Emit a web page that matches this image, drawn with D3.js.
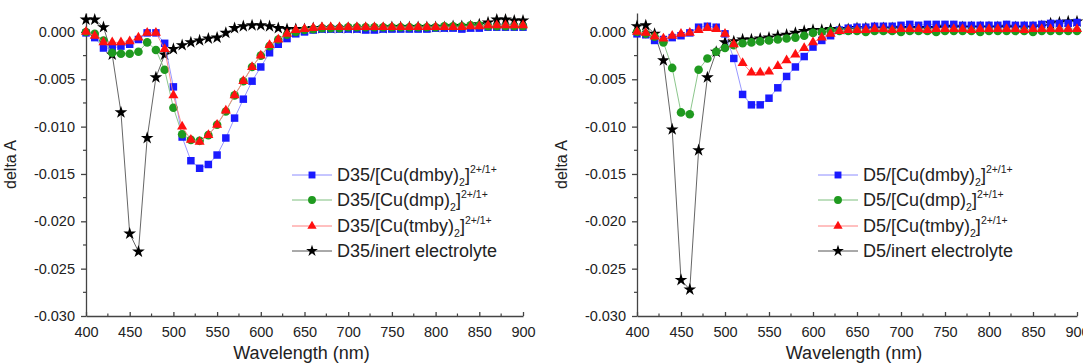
<!DOCTYPE html>
<head>
  <meta charset="utf-8">
  <script src="https://d3js.org/d3.v7.min.js"></script>
  <style>
    body { margin:0; background:#fff; }
    text { font-family: Arial, "Liberation Sans", sans-serif; fill:#222; }
  </style>
</head>

<body>
  <script>
    // wavelengths (nm), same grid for both panels
    var wavelengths = [400,410,420,430,440,450,460,470,480,490,500,510,520,530,540,550,560,570,580,590,
                       600,610,620,630,640,650,660,670,680,690,700,710,720,730,740,750,760,770,780,790,
                       800,810,820,830,840,850,860,870,880,890,900];

    // D35 panel (left)
    var d35_dmby = [-0.0001,-0.0006,-0.0017,-0.0017,-0.0015,-0.0013,-0.0008,-0.0001,-0.0001,-0.0012,
                    -0.0058,-0.0111,-0.0136,-0.0144,-0.0140,-0.0130,-0.0112,-0.0091,-0.0071,-0.0052,
                    -0.0037,-0.0022,-0.0013,-0.0007,-0.0002,0.0000,0.0002,0.0003,0.0003,0.0003,
                    0.0003,0.0003,0.0002,0.0002,0.0003,0.0003,0.0003,0.0003,0.0003,0.0003,
                    0.0004,0.0004,0.0004,0.0003,0.0004,0.0004,0.0005,0.0005,0.0005,0.0005,0.0005];
    var d35_dmp  = [0.0000,-0.0002,-0.0009,-0.0022,-0.0023,-0.0023,-0.0021,-0.0011,-0.0019,-0.0040,
                    -0.0080,-0.0108,-0.0114,-0.0115,-0.0109,-0.0098,-0.0084,-0.0067,-0.0052,-0.0037,
                    -0.0025,-0.0015,-0.0008,-0.0003,0.0000,0.0002,0.0003,0.0004,0.0004,0.0004,
                    0.0005,0.0005,0.0005,0.0005,0.0005,0.0005,0.0005,0.0005,0.0005,0.0005,
                    0.0005,0.0006,0.0006,0.0006,0.0007,0.0007,0.0006,0.0006,0.0006,0.0006,0.0006];
    var d35_tmby = [0.0000,-0.0004,-0.0011,-0.0011,-0.0011,-0.0010,-0.0006,-0.0001,-0.0001,-0.0018,
                    -0.0067,-0.0100,-0.0114,-0.0116,-0.0109,-0.0098,-0.0083,-0.0067,-0.0052,-0.0037,
                    -0.0025,-0.0014,-0.0008,-0.0002,0.0002,0.0003,0.0004,0.0005,0.0005,0.0005,
                    0.0005,0.0005,0.0005,0.0005,0.0005,0.0005,0.0005,0.0005,0.0005,0.0005,
                    0.0005,0.0005,0.0005,0.0005,0.0006,0.0006,0.0007,0.0007,0.0007,0.0007,0.0007];
    var d35_inert = [0.0013,0.0013,0.0005,-0.0024,-0.0085,-0.0213,-0.0232,-0.0112,-0.0048,-0.0024,
                     -0.0018,-0.0014,-0.0011,-0.0009,-0.0007,-0.0006,-0.0001,0.0004,0.0006,0.0007,
                     0.0007,0.0006,0.0004,0.0003,0.0003,0.0003,0.0004,0.0004,0.0004,0.0004,
                     0.0004,0.0004,0.0004,0.0004,0.0004,0.0005,0.0005,0.0005,0.0005,0.0005,
                     0.0005,0.0005,0.0006,0.0006,0.0006,0.0008,0.0010,0.0013,0.0013,0.0012,0.0012];

    // D5 panel (right)
    var d5_dmby = [-0.0002,-0.0003,-0.0009,-0.0008,-0.0006,-0.0004,-0.0001,0.0005,0.0006,0.0005,
                   -0.0002,-0.0028,-0.0066,-0.0077,-0.0077,-0.0070,-0.0059,-0.0047,-0.0037,-0.0026,
                   -0.0016,-0.0009,-0.0004,0.0002,0.0004,0.0005,0.0005,0.0006,0.0006,0.0006,
                   0.0007,0.0008,0.0007,0.0008,0.0008,0.0008,0.0008,0.0007,0.0007,0.0007,
                   0.0007,0.0007,0.0008,0.0007,0.0007,0.0007,0.0008,0.0009,0.0009,0.0009,0.0010];
    var d5_dmp  = [0.0000,-0.0002,-0.0005,-0.0011,-0.0038,-0.0085,-0.0087,-0.0040,-0.0028,-0.0021,
                   -0.0017,-0.0014,-0.0012,-0.0011,-0.0010,-0.0009,-0.0008,-0.0007,-0.0006,-0.0004,
                   -0.0001,0.0000,0.0001,0.0001,0.0001,0.0001,0.0000,0.0001,0.0001,0.0001,
                   0.0000,0.0001,0.0001,0.0001,0.0000,0.0001,0.0001,0.0001,0.0001,0.0000,
                   0.0001,0.0001,0.0001,0.0001,0.0001,0.0000,0.0001,0.0001,0.0001,0.0001,0.0001];
    var d5_tmby = [0.0000,-0.0001,-0.0005,-0.0007,-0.0004,-0.0002,-0.0001,0.0002,0.0004,0.0003,
                   -0.0002,-0.0013,-0.0033,-0.0043,-0.0043,-0.0042,-0.0036,-0.0030,-0.0024,-0.0017,
                   -0.0011,-0.0006,-0.0002,0.0001,0.0002,0.0002,0.0002,0.0003,0.0003,0.0002,
                   0.0003,0.0003,0.0003,0.0002,0.0003,0.0003,0.0003,0.0003,0.0002,0.0003,
                   0.0003,0.0003,0.0003,0.0003,0.0002,0.0003,0.0003,0.0003,0.0003,0.0003,0.0003];
    var d5_inert = [0.0006,0.0007,-0.0002,-0.0030,-0.0103,-0.0262,-0.0272,-0.0125,-0.0048,-0.0021,
                    -0.0011,-0.0010,-0.0008,-0.0008,-0.0007,-0.0006,-0.0004,-0.0003,-0.0001,0.0001,
                    0.0002,0.0002,0.0003,0.0003,0.0003,0.0004,0.0004,0.0004,0.0004,0.0004,
                    0.0004,0.0004,0.0004,0.0004,0.0004,0.0005,0.0005,0.0005,0.0005,0.0005,
                    0.0005,0.0005,0.0005,0.0005,0.0005,0.0005,0.0006,0.0009,0.0010,0.0011,0.0011];

    var xTicks = [400,450,500,550,600,650,700,750,800,850,900];
    var yTicks = [0,-0.005,-0.010,-0.015,-0.020,-0.025,-0.030];

    var W = 1083, H = 364;
    var svg = d3.select("body").append("svg")
        .attr("width", W)
        .attr("height", H);

    // style per series: colour, line colour, symbol
    var styles = {
      dmby:  {color:"#1a1aff", line:"#8c8cff", sym:d3.symbolSquare,   size:56},
      dmp:   {color:"#1f9a1f", line:"#7fbf7f", sym:d3.symbolCircle,   size:58},
      tmby:  {color:"#ff1010", line:"#ff8080", sym:d3.symbolTriangle, size:44},
      inert: {color:"#000000", line:"#555555", sym:d3.symbolStar,     size:50}
    };

    function drawPanel(p) {
      var x = d3.scaleLinear().domain([400, 900]).range([p.left, p.right]);
      var y = d3.scaleLinear().domain([-0.030, 0.002]).range([316, 13]);
      var g = svg.append("g");

      // minor ticks
      var minorX = [425,475,525,575,625,675,725,775,825,875];
      g.selectAll(".mx").data(minorX).enter().append("line")
        .attr("x1", function(d){ return x(d); }).attr("x2", function(d){ return x(d); })
        .attr("y1", y(-0.030)).attr("y2", y(-0.030) - 2.5)
        .attr("stroke", "#444").attr("stroke-width", 1.2);
      var minorY = [-0.0025,-0.0075,-0.0125,-0.0175,-0.0225,-0.0275];
      g.selectAll(".my").data(minorY).enter().append("line")
        .attr("x1", x(400)).attr("x2", x(400) - 3)
        .attr("y1", function(d){ return y(d); }).attr("y2", function(d){ return y(d); })
        .attr("stroke", "#444").attr("stroke-width", 1.2);

      var xAxis = d3.axisBottom(x).tickValues(xTicks)
        .tickSizeInner(-4).tickSizeOuter(0).tickPadding(11);
      var gx = g.append("g")
        .attr("transform", "translate(0," + y(-0.030) + ")")
        .call(xAxis);
      gx.selectAll("text").style("font-size", "14.5px").attr("fill", "#222");

      var yAxis = d3.axisLeft(y).tickValues(yTicks)
        .tickSizeInner(5).tickSizeOuter(0).tickPadding(6)
        .tickFormat(function(d){ return d.toFixed(3); });
      var gy = g.append("g")
        .attr("transform", "translate(" + x(400) + ",0)")
        .call(yAxis);
      gy.selectAll("text").style("font-size", "14.5px").attr("fill", "#222");

      g.selectAll(".domain, .tick line").attr("stroke", "#444").attr("stroke-width", 1.3);

      // axis titles
      g.append("text")
        .attr("x", (p.left + p.right) / 2 - 3)
        .attr("y", 359)
        .attr("text-anchor", "middle")
        .style("font-size", "18px")
        .text("Wavelength (nm)");
      g.append("text")
        .attr("transform", "translate(" + (p.left - 70) + "," + y(-0.014) + ") rotate(-90)")
        .attr("text-anchor", "middle")
        .style("font-size", "16px")
        .text("delta A");

      // series (inert first so it sits underneath)
      var line = d3.line()
        .x(function(d){ return x(d[0]); })
        .y(function(d){ return y(d[1]); });

      p.series.forEach(function(s) {
        var st = styles[s.key];
        var pts = wavelengths.map(function(w, i){ return [w, s.values[i]]; });
        g.append("path")
          .datum(pts)
          .attr("d", line)
          .attr("fill", "none")
          .attr("stroke", st.line)
          .attr("stroke-width", 0.9);
        g.selectAll(null).data(pts).enter().append("path")
          .attr("d", d3.symbol().type(st.sym).size(st.size))
          .attr("transform", function(d){ return "translate(" + x(d[0]) + "," + y(d[1]) + ")"; })
          .attr("fill", st.color);
      });

      // legend
      var legendOrder = ["dmby", "dmp", "tmby", "inert"];
      var ligands = {dmby:"dmby", dmp:"dmp", tmby:"tmby"};
      legendOrder.forEach(function(k, i) {
        var st = styles[k];
        var ly = p.legendY[i];
        g.append("line")
          .attr("x1", p.legendX).attr("x2", p.legendX + 40)
          .attr("y1", ly).attr("y2", ly)
          .attr("stroke", st.line).attr("stroke-width", 1);
        g.append("path")
          .attr("d", d3.symbol().type(st.sym).size(st.size * 0.85)())
          .attr("transform", "translate(" + (p.legendX + 20) + "," + ly + ")")
          .attr("fill", st.color);
        var t = g.append("text")
          .attr("x", p.legendX + 45)
          .attr("y", ly + 6)
          .style("font-size", "18px");
        if (k === "inert") {
          t.text(p.dye + "/inert electrolyte");
        } else {
          t.append("tspan").text(p.dye + "/[Cu(" + ligands[k] + ")");
          t.append("tspan").attr("dy", 5).style("font-size", "10.5px").text("2");
          t.append("tspan").attr("dy", -5).text("]");
          t.append("tspan").attr("dy", -8).style("font-size", "10.5px").text("2+/1+");
        }
      });
    }

    drawPanel({
      left: 86, right: 523, dye: "D35",
      legendX: 292, legendY: [175, 200, 226, 251],
      series: [
        {key:"inert", values:d35_inert},
        {key:"dmby",  values:d35_dmby},
        {key:"dmp",   values:d35_dmp},
        {key:"tmby",  values:d35_tmby}
      ]
    });

    drawPanel({
      left: 637, right: 1077, dye: "D5",
      legendX: 818, legendY: [175, 200, 226, 251],
      series: [
        {key:"inert", values:d5_inert},
        {key:"dmby",  values:d5_dmby},
        {key:"dmp",   values:d5_dmp},
        {key:"tmby",  values:d5_tmby}
      ]
    });
  </script>
</body>
